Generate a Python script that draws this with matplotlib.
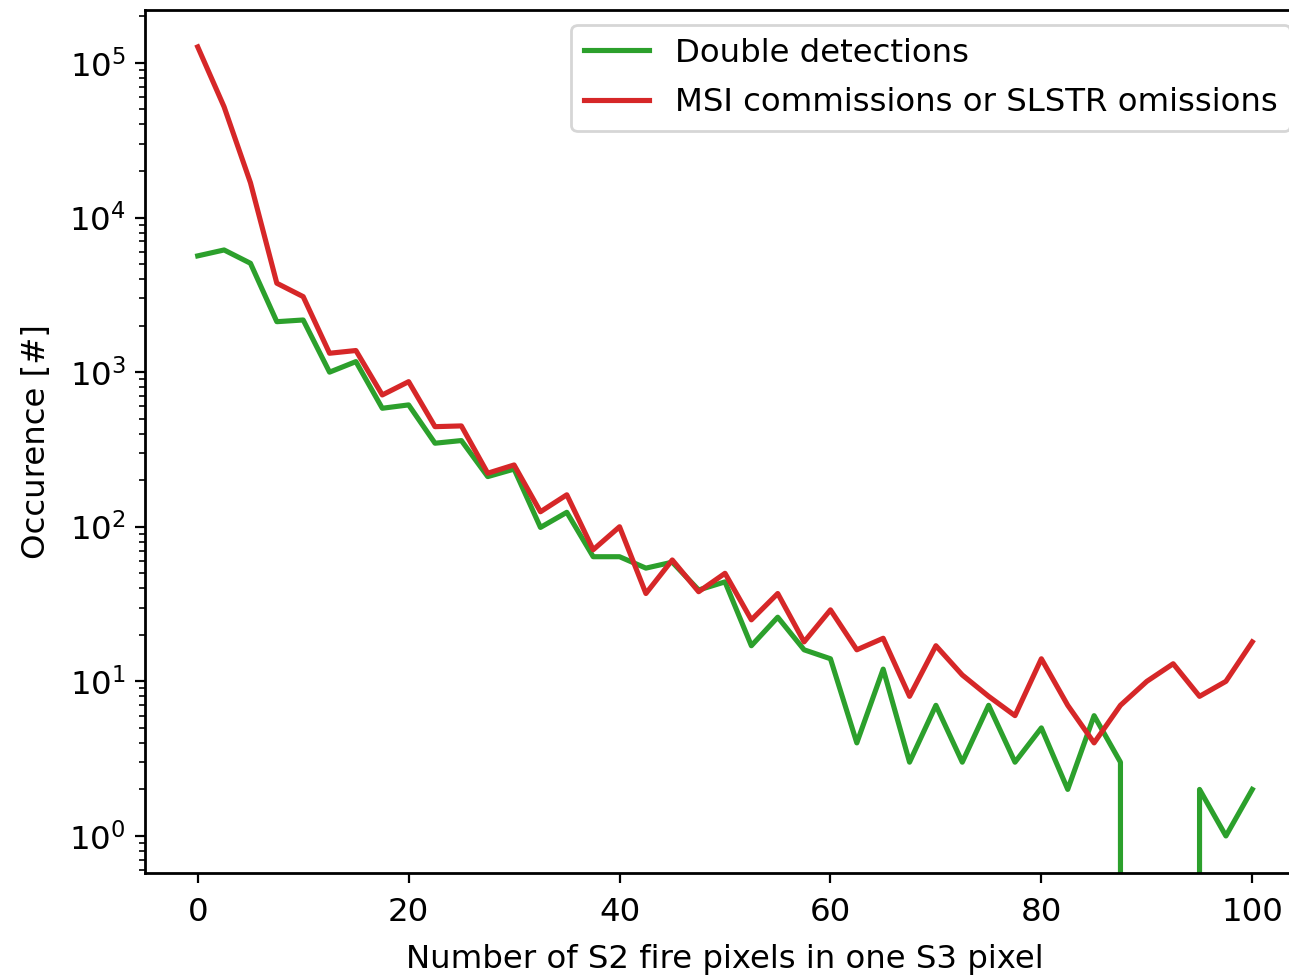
import matplotlib
matplotlib.use("Agg")
import matplotlib.pyplot as plt
import numpy as np

# number of S2 fire pixels per S3 pixel (bins of 2.5)
n_pixels = np.arange(0, 101, 2.5)

double_det = [5650, 6170, 5060, 2120, 2175, 1000, 1170, 584, 614, 347,
              361, 211, 236, 99, 124, 64, 64, 54, 59, 39,
              44, 17, 26, 16, 14, 4, 12, 3, 7, 3,
              7, 3, 5, 2, 6, 3, 0, 0, 2, 1, 2]

msi_comm = [127000, 52000, 16800, 3760, 3080, 1325, 1380, 712, 868, 444,
            449, 222, 251, 125, 161, 71, 100, 37, 61, 38,
            50, 25, 37, 18, 29, 16, 19, 8, 17, 11,
            8, 6, 14, 7, 4, 7, 10, 13, 8, 10, 18]

plt.rcParams['font.size'] = 11.65
plt.rcParams['axes.linewidth'] = 1.0

fig = plt.figure(figsize=(1289 / 200, 976 / 200), dpi=200)
# axes run a little past the right edge, like the cropped original
ax = fig.add_axes([145 / 1289, 103 / 976, 1160 / 1289, 863 / 976])

ax.plot(n_pixels, double_det, color="tab:green", lw=1.85, label="Double detections")
ax.plot(n_pixels, msi_comm, color="tab:red", lw=1.85, label="MSI commissions or SLSTR omissions")
ax.set_yscale("log")
ax.set_xlim(-5, 105)
ax.set_ylim(0.576, 2.2e5)
ax.set_xticks([0, 20, 40, 60, 80, 100])
ax.tick_params(axis="x", pad=5)
ax.set_xlabel("Number of S2 fire pixels in one S3 pixel", labelpad=6)
ax.set_ylabel("Occurence [#]", labelpad=6)
ax.legend(loc="upper right", labelspacing=0.58, borderaxespad=0.45)

fig.savefig("out.png", dpi=200)
